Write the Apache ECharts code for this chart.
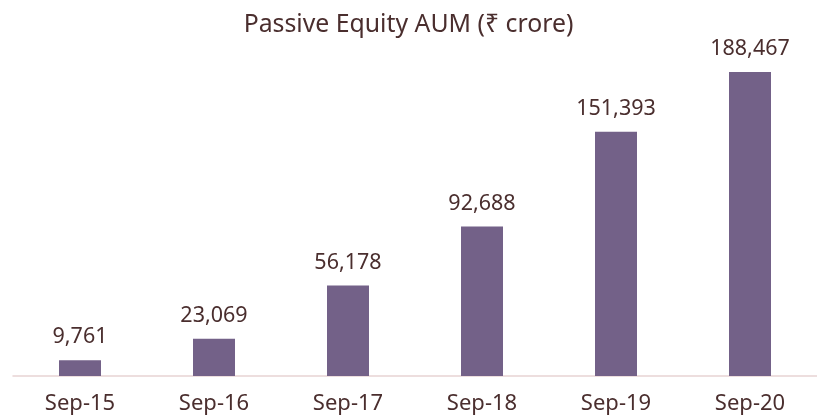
<!DOCTYPE html>
<html><head><meta charset="utf-8">
<script src="https://cdn.jsdelivr.net/npm/echarts@6/dist/echarts.min.js"></script>
<style>html,body{margin:0;padding:0;background:#fff}#c{width:817px;height:416px}</style>
</head><body><div id="c"></div>
<script>
const categories = ['Sep-15','Sep-16','Sep-17','Sep-18','Sep-19','Sep-20'];
const aum = [9761, 23069, 56178, 92688, 151393, 188467];
const titleText = 'Passive Equity AUM (₹ crore)';
const chart = echarts.init(document.getElementById('c'));
const font = '"Noto Sans", "Open Sans", sans-serif';
chart.setOption({
  animation: false,
  title: { text: titleText, left: 'center', top: 7, textStyle: { fontFamily: font, fontSize: 24.8, fontWeight: 'normal', color: '#4a2e2e' } },
  grid: { left: 13, right: -2, top: 53.4, bottom: 40 },
  xAxis: { type: 'category', data: categories,
    axisLine: { lineStyle: { color: '#e8d3d3', width: 1.5 } }, axisTick: { show: false },
    axisLabel: { fontFamily: font, fontSize: 22, color: '#4a2e2e', margin: 17 } },
  yAxis: { type: 'value', min: 0, max: 200000, show: false, splitLine: { show: false } },
  series: [{ type: 'bar', data: aum, barWidth: 42, itemStyle: { color: '#736188' },
    label: { show: true, position: 'top', distance: 12, fontFamily: font, fontSize: 21.5, color: '#4a2e2e',
      formatter: p => p.value.toLocaleString('en-US') } }]
});
</script></body></html>
